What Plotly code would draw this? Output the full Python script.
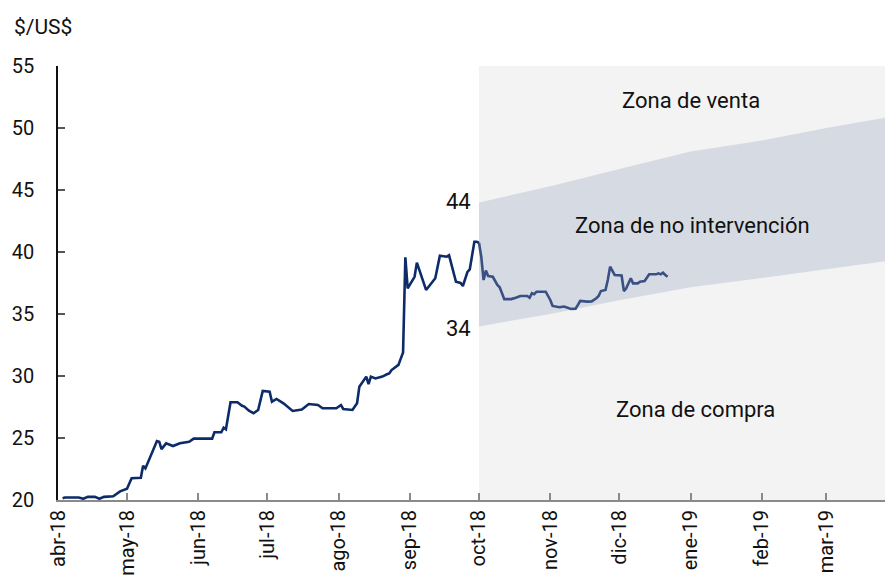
import plotly.graph_objects as go

# ---- data ----
pre_dates = ["2018-04-03","2018-04-04","2018-04-10","2018-04-12","2018-04-14","2018-04-17","2018-04-19","2018-04-21",
             "2018-04-25","2018-04-28","2018-05-01","2018-05-03","2018-05-07","2018-05-08","2018-05-09","2018-05-14",
             "2018-05-15","2018-05-16","2018-05-18","2018-05-21","2018-05-24","2018-05-28","2018-05-30","2018-06-04",
             "2018-06-07","2018-06-08","2018-06-11","2018-06-12","2018-06-13","2018-06-15","2018-06-18","2018-06-20",
             "2018-06-21","2018-06-23","2018-06-25","2018-06-27","2018-06-29","2018-07-02","2018-07-03","2018-07-05",
             "2018-07-08","2018-07-12","2018-07-16","2018-07-19","2018-07-23","2018-07-25","2018-07-31","2018-08-02",
             "2018-08-03","2018-08-07","2018-08-09","2018-08-10","2018-08-13","2018-08-14","2018-08-15","2018-08-17",
             "2018-08-20","2018-08-22","2018-08-23","2018-08-24","2018-08-27","2018-08-28","2018-08-29","2018-08-30",
             "2018-08-31","2018-09-03","2018-09-04","2018-09-08","2018-09-10","2018-09-12","2018-09-14","2018-09-17",
             "2018-09-18","2018-09-21","2018-09-23","2018-09-24","2018-09-26","2018-09-27","2018-09-29","2018-09-30",
             "2018-10-01"]
pre_values = [20.15,20.2,20.2,20.1,20.25,20.25,20.1,20.25,
              20.3,20.7,20.9,21.75,21.8,22.76,22.55,24.76,
              24.7,24.1,24.57,24.35,24.57,24.7,24.95,24.97,
              24.95,25.46,25.46,25.83,25.7,27.88,27.88,27.6,
              27.53,27.2,27.0,27.26,28.8,28.73,27.93,28.15,
              27.8,27.18,27.3,27.74,27.66,27.4,27.4,27.66,
              27.34,27.26,27.8,29.14,29.95,29.35,29.95,29.8,
              29.95,30.14,30.2,30.48,30.9,31.4,31.9,39.57,
              37.07,38.0,39.14,36.94,37.42,37.88,39.7,39.62,
              39.73,37.6,37.5,37.26,38.4,38.6,40.83,40.83,
              40.75]

post_dates = ["2018-10-01","2018-10-02","2018-10-03","2018-10-04","2018-10-05","2018-10-07","2018-10-09","2018-10-10",
              "2018-10-12","2018-10-15","2018-10-17","2018-10-19","2018-10-22","2018-10-23","2018-10-24","2018-10-25",
              "2018-10-26","2018-10-30","2018-11-01","2018-11-02","2018-11-05","2018-11-07","2018-11-10","2018-11-12",
              "2018-11-13","2018-11-14","2018-11-17","2018-11-19","2018-11-21","2018-11-22","2018-11-23","2018-11-25",
              "2018-11-26","2018-11-27","2018-11-29","2018-12-02","2018-12-03","2018-12-04","2018-12-06","2018-12-07",
              "2018-12-09","2018-12-10","2018-12-12","2018-12-14","2018-12-17","2018-12-18","2018-12-19","2018-12-20",
              "2018-12-21","2018-12-22"]
post_values = [40.75,39.6,37.74,38.5,38.06,38.0,37.34,37.15,
               36.2,36.2,36.31,36.45,36.45,36.31,36.67,36.59,
               36.8,36.8,36.13,35.65,35.54,35.6,35.4,35.43,
               35.73,36.05,36.0,36.02,36.27,36.45,36.85,36.94,
               37.74,38.82,38.15,38.1,36.85,37.07,37.88,37.47,
               37.47,37.6,37.66,38.2,38.2,38.28,38.2,38.33,
               38.15,38.0]

band_dates = ["2018-10-01","2018-11-01","2018-12-01","2019-01-01","2019-02-01","2019-03-01","2019-04-01"]
band_lower = [34.0,35.0,36.1,37.15,37.9,38.6,39.4]
band_upper = [44.0,45.3,46.7,48.1,49.0,50.0,51.0]

zone_start = "2018-10-01"
zone_end = "2019-04-01"
x_range = ["2018-04-01", "2019-03-26 12:00"]
y_range = [20, 55]

tick_vals = ["2018-04-01","2018-05-01","2018-06-01","2018-07-01","2018-08-01","2018-09-01",
             "2018-10-01","2018-11-01","2018-12-01","2019-01-01","2019-02-01","2019-03-01"]
tick_text = ["abr-18","may-18","jun-18","jul-18","ago-18","sep-18",
             "oct-18","nov-18","dic-18","ene-19","feb-19","mar-19"]
y_ticks = [20, 25, 30, 35, 40, 45, 50, 55]

FONT = "Roboto"
BG_ZONE = "#f3f3f3"
BAND = "#d6dbe3"
NAVY = "#0d2a69"
SLATE = "#3a5085"

fig = go.Figure()

# background zone (compra / venta)
fig.add_trace(go.Scatter(x=[zone_start, zone_end, zone_end, zone_start, zone_start],
                         y=[y_range[0], y_range[0], y_range[1], y_range[1], y_range[0]],
                         fill="toself", fillcolor=BG_ZONE, line=dict(width=0),
                         mode="lines", hoverinfo="skip", showlegend=False))
# no-intervention band
fig.add_trace(go.Scatter(x=band_dates, y=band_lower, mode="lines", line=dict(width=0, color=BAND),
                         hoverinfo="skip", showlegend=False))
fig.add_trace(go.Scatter(x=band_dates, y=band_upper, mode="lines", line=dict(width=0, color=BAND),
                         fill="tonexty", fillcolor=BAND, hoverinfo="skip", showlegend=False))

fig.add_trace(go.Scatter(x=pre_dates, y=pre_values, mode="lines",
                         line=dict(color=NAVY, width=2.6), showlegend=False))
fig.add_trace(go.Scatter(x=post_dates, y=post_values, mode="lines",
                         line=dict(color=SLATE, width=2.6), showlegend=False))

ann_font = dict(family=FONT, size=22, color="#111111")
annotations = [
    dict(x="2019-01-01", y=52.2, text="Zona de venta"),
    dict(x="2019-01-02", y=42.1, text="Zona de no intervención"),
    dict(x="2019-01-03", y=27.3, text="Zona de compra"),
    dict(x="2018-09-22", y=44.1, text="44"),
    dict(x="2018-09-22", y=33.8, text="34"),
]
for a in annotations:
    fig.add_annotation(x=a["x"], y=a["y"], text=a["text"], showarrow=False,
                       xref="x", yref="y", font=ann_font)
fig.add_annotation(text="$/US$", showarrow=False, xref="paper", yref="paper",
                   x=-46 / 827, y=1 + (66 - 27) / 434, xanchor="left", yanchor="middle",
                   font=dict(family=FONT, size=21, color="#111111"))

fig.update_layout(
    width=885, height=583,
    margin=dict(l=58, r=0, t=66, b=83),
    paper_bgcolor="white", plot_bgcolor="white",
    font=dict(family=FONT, size=20, color="#111111"),
)
fig.update_xaxes(range=x_range, tickvals=tick_vals, ticktext=tick_text, tickangle=-90,
                 showgrid=False, zeroline=False, showline=True, linecolor="#8a8a8a", linewidth=2,
                 ticks="inside", ticklen=7, tickcolor="#8a8a8a", tickwidth=1.5, automargin=False,
                 tickfont=dict(family=FONT, size=20, color="#111111"))
fig.update_yaxes(range=y_range, tickvals=y_ticks, showgrid=False, zeroline=False,
                 showline=True, linecolor="#111111", linewidth=1.5, automargin=False,
                 ticks="inside", ticklen=7, tickcolor="#555555", tickwidth=1.5,
                 ticklabelstandoff=18,
                 tickfont=dict(family=FONT, size=20, color="#111111"))

fig.write_html("out.html", config={"displayModeBar": False},
               post_script="document.body.style.margin='0';document.body.style.overflow='hidden';")
